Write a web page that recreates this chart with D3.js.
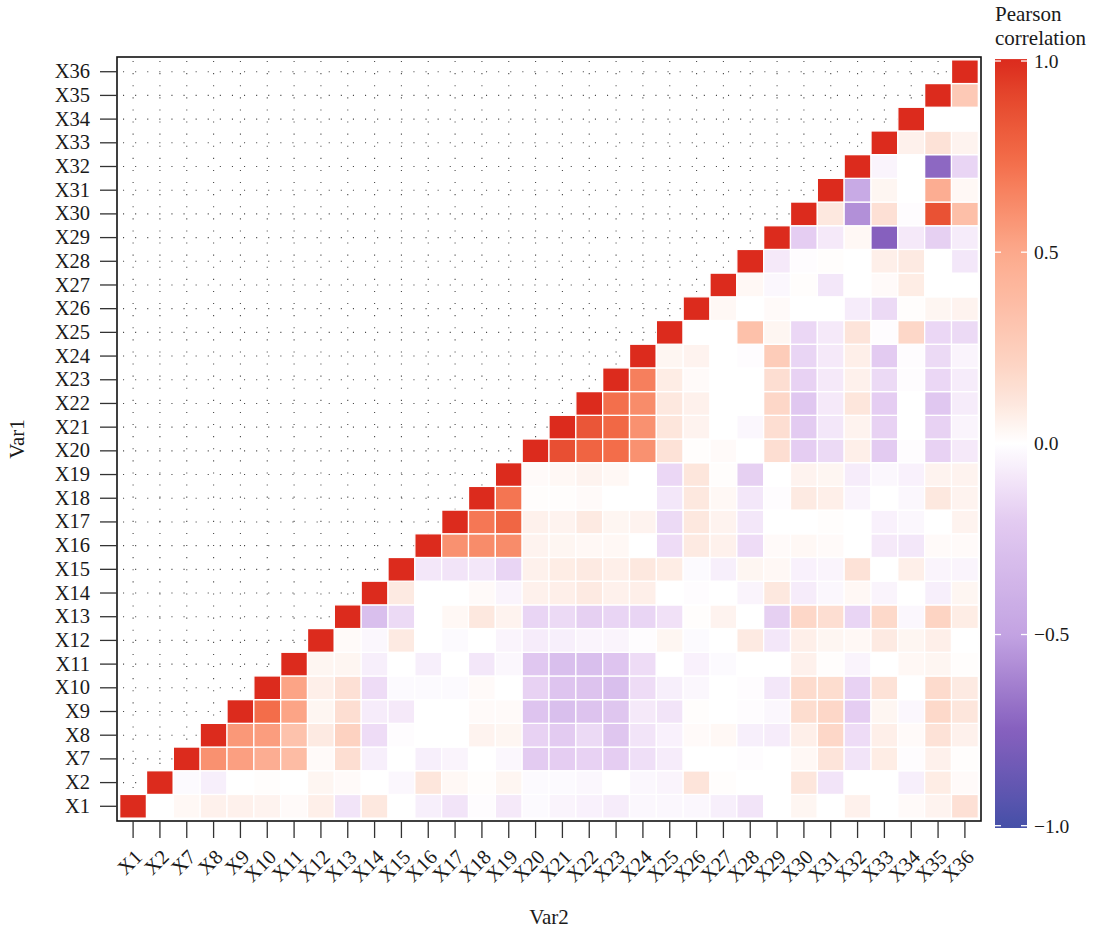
<!DOCTYPE html>
<html>
<head>
<meta charset="utf-8">
<script src="https://cdn.jsdelivr.net/npm/d3@7"></script>
<style>
  html, body { margin: 0; padding: 0; background: #ffffff; }
  svg { display: block; }
  text { font-family: "Liberation Serif", "DejaVu Serif", serif; fill: #1a1a1a; }
</style>
</head>
<body>
<svg id="chart" width="1094" height="930"></svg>
<script>
// Variable names, in axis order
const vars = ["X1","X2","X7","X8","X9","X10","X11","X12","X13","X14","X15","X16",
  "X17","X18","X19","X20","X21","X22","X23","X24","X25","X26","X27","X28","X29",
  "X30","X31","X32","X33","X34","X35","X36"];

// Upper triangle of the Pearson correlation matrix.
// Row k holds r(vars[k], vars[j]) for j = k+1 .. last; the diagonal is 1.
const upperRows = [
  /* X1  */ [0, 0.03, 0.06, 0.06, 0.05, 0.02, 0.07, -0.10, 0.10, 0, -0.06, -0.10, -0.01, -0.08, -0.02, -0.04, -0.05, -0.07, -0.03, -0.03, -0.03, -0.06, -0.10, 0, 0.04, 0, 0.06, 0, 0.02, 0.05, 0.14],
  /* X2  */ [-0.02, -0.06, 0, 0.01, 0, 0.04, 0.02, 0, -0.03, 0.11, 0.03, 0.01, 0.04, -0.02, -0.02, -0.03, 0, -0.03, -0.04, 0.12, 0.01, 0, 0, 0.11, -0.10, 0, 0, -0.06, 0.08, 0.02],
  /* X7  */ [0.60, 0.54, 0.47, 0.37, 0.02, 0.15, -0.06, 0, -0.06, -0.04, 0, -0.03, -0.20, -0.19, -0.17, -0.19, -0.12, -0.07, 0, 0, -0.01, 0, 0.03, 0.12, -0.10, 0.08, -0.01, 0.06, 0.01],
  /* X8  */ [0.57, 0.55, 0.33, 0.09, 0.22, -0.13, -0.01, 0, 0, 0.05, 0.04, -0.17, -0.20, -0.14, -0.24, -0.10, -0.05, 0.02, 0.03, -0.06, -0.07, 0.07, 0.19, -0.13, 0.07, 0.02, 0.13, 0.06],
  /* X9  */ [0.74, 0.52, 0.04, 0.15, -0.07, -0.08, 0, 0, 0.02, 0.02, -0.25, -0.29, -0.26, -0.24, -0.08, -0.10, 0.01, 0, -0.01, -0.03, 0.16, 0.19, -0.19, 0.04, -0.03, 0.18, 0.11],
  /* X10 */ [0.52, 0.07, 0.14, -0.13, -0.02, -0.02, -0.02, 0.02, 0, -0.17, -0.25, -0.26, -0.29, -0.13, -0.06, -0.03, 0, -0.01, -0.09, 0.17, 0.16, -0.17, 0.13, 0, 0.17, 0.09],
  /* X11 */ [0.04, 0.04, -0.06, 0, -0.06, 0, -0.09, -0.03, -0.23, -0.29, -0.29, -0.25, -0.13, 0, -0.05, -0.02, 0, 0, 0.06, 0.01, -0.04, 0, 0.03, 0.04, 0.01],
  /* X12 */ [0.02, -0.03, 0.09, 0, -0.02, 0, -0.04, -0.07, -0.06, -0.04, -0.04, -0.01, 0.04, -0.02, 0, 0.09, -0.09, 0.07, 0.04, 0.03, 0.09, 0.04, 0.07, 0],
  /* X13 */ [-0.29, -0.14, 0, 0.03, 0.10, 0.05, -0.16, -0.14, -0.18, -0.16, -0.16, -0.11, 0.01, 0.05, 0, -0.18, 0.19, 0.15, -0.16, 0.18, -0.03, 0.21, 0.08],
  /* X14 */ [0.09, 0, 0, 0.02, -0.04, 0.06, 0.07, 0.09, 0.06, 0.07, 0, -0.01, 0, -0.04, 0.10, -0.07, -0.03, 0.03, -0.04, 0, -0.06, 0.04],
  /* X15 */ [-0.09, -0.10, -0.09, -0.16, 0.06, 0.08, 0.09, 0.07, 0.10, 0.08, -0.02, -0.06, 0.04, 0.03, -0.05, -0.04, 0.13, 0, 0.07, -0.04, -0.04],
  /* X16 */ [0.60, 0.62, 0.62, 0.05, 0.04, 0.03, 0.03, 0, -0.13, 0.09, 0.06, -0.13, 0.02, 0.03, 0.02, 0, -0.08, -0.09, 0.02, 0.02],
  /* X17 */ [0.70, 0.77, 0.06, 0.05, 0.09, 0.04, 0.05, -0.14, 0.10, 0.05, -0.09, 0, 0, 0.01, 0, -0.05, -0.03, 0, 0.05],
  /* X18 */ [0.71, 0.01, 0.01, 0.02, 0, 0, -0.09, 0.10, 0.03, -0.09, -0.01, 0.09, 0.07, -0.04, 0, -0.03, 0.10, 0.05],
  /* X19 */ [0.02, 0.03, 0.05, 0.03, 0, -0.15, 0.11, 0.01, -0.18, 0, 0.05, 0.04, -0.07, -0.03, -0.05, 0.05, 0.05],
  /* X20 */ [0.87, 0.78, 0.74, 0.60, 0.13, 0.01, 0.02, 0, 0.15, -0.19, -0.14, 0.07, -0.20, -0.01, -0.17, -0.08],
  /* X21 */ [0.84, 0.76, 0.60, 0.11, 0.05, 0, -0.03, 0.15, -0.20, -0.09, 0.05, -0.17, 0, -0.17, -0.04],
  /* X22 */ [0.73, 0.62, 0.10, 0.06, 0, 0, 0.19, -0.23, -0.08, 0.11, -0.19, 0, -0.23, -0.07],
  /* X23 */ [0.67, 0.08, 0.02, 0, 0, 0.15, -0.17, -0.08, 0.06, -0.14, -0.01, -0.15, -0.07],
  /* X24 */ [0.04, 0.05, 0, -0.01, 0.26, -0.16, -0.08, 0.07, -0.20, -0.01, -0.14, -0.04],
  /* X25 */ [0, 0, 0.34, 0.04, -0.15, -0.08, 0.12, -0.01, 0.19, -0.15, -0.14],
  /* X26 */ [0.03, 0, 0.02, 0, 0, -0.07, -0.14, 0.01, 0.04, 0.05],
  /* X27 */ [0.03, -0.03, 0.01, -0.09, 0, 0.02, 0.08, 0, 0],
  /* X28 */ [-0.08, -0.01, 0.01, 0, 0.07, 0.09, 0, -0.09],
  /* X29 */ [-0.19, -0.08, 0.03, -0.75, -0.08, -0.18, -0.07],
  /* X30 */ [0.10, -0.57, 0.14, -0.01, 0.86, 0.35],
  /* X31 */ [-0.45, 0.04, 0, 0.47, 0.03],
  /* X32 */ [-0.04, 0, -0.72, -0.16],
  /* X33 */ [0.06, 0.13, 0.05],
  /* X34 */ [0, 0],
  /* X35 */ [0.28],
  /* X36 */ []
];

// Colour scale stops for the fill
const colorStops  = [-1, -0.75, -0.5, -0.2, -0.1, 0, 0.1, 0.2, 0.5, 0.75, 1];
const colorValues = ["#4650a8", "#8660be", "#c3a3e2", "#e3cbf1", "#f2e4f8", "#ffffff",
                     "#fde8df", "#fdd5c5", "#fca98c", "#f26a47", "#dc2b1d"];

// Legend ticks
const legendTicks  = [1, 0.5, 0, -0.5, -1];
const legendLabels = ["1.0", "0.5", "0.0", "\u22120.5", "\u22121.0"];

// Long-format cells: Var1 (row), Var2 (column), value
const cells = [];
vars.forEach((v1, i) => {
  cells.push({ var1: v1, var2: v1, value: 1 });
  upperRows[i].forEach((r, k) => {
    cells.push({ var1: v1, var2: vars[i + 1 + k], value: r });
  });
});

const svg = d3.select("#chart");

const panel = { left: 117, right: 981, top: 57, bottom: 821 };

const x = d3.scaleBand().domain(vars)
  .range([panel.left, panel.right]).paddingInner(0).paddingOuter(0.1);
const y = d3.scaleBand().domain(vars)
  .range([panel.bottom - 0.5, panel.top + 0.5]).paddingInner(0).paddingOuter(0.1);

const fill = d3.scaleLinear().domain(colorStops).range(colorValues)
  .interpolate(d3.interpolateLab).clamp(true);

// Dotted major grid lines
const grid = svg.append("g").attr("class", "grid")
  .attr("stroke", "#1e1e1e").attr("stroke-width", 1.1)
  .attr("stroke-dasharray", "1.1 11").attr("opacity", 0.8);
grid.selectAll("line.h").data(vars).join("line").attr("class", "h")
  .attr("x1", panel.left + 6).attr("x2", panel.right)
  .attr("y1", d => y(d) + y.bandwidth() / 2).attr("y2", d => y(d) + y.bandwidth() / 2);
grid.selectAll("line.v").data(vars).join("line").attr("class", "v")
  .attr("y1", panel.top + 4).attr("y2", panel.bottom)
  .attr("x1", d => x(d) + x.bandwidth() / 2).attr("x2", d => x(d) + x.bandwidth() / 2);

// Tiles
svg.append("g").selectAll("rect").data(cells).join("rect")
  .attr("x", d => x(d.var2))
  .attr("y", d => y(d.var1))
  .attr("width", x.bandwidth())
  .attr("height", y.bandwidth())
  .attr("fill", d => fill(d.value))
  .attr("stroke", "#ffffff")
  .attr("stroke-width", 1.3);

// Panel border
svg.append("rect")
  .attr("x", panel.left).attr("y", panel.top)
  .attr("width", panel.right - panel.left).attr("height", panel.bottom - panel.top)
  .attr("fill", "none").attr("stroke", "#111").attr("stroke-width", 1.6);

// Left axis
const yAxis = svg.append("g")
  .attr("transform", `translate(${panel.left},0)`)
  .call(d3.axisLeft(y).tickSize(17).tickPadding(10));
yAxis.select(".domain").remove();
yAxis.selectAll(".tick line").attr("stroke", "#333").attr("stroke-width", 1.3);
yAxis.selectAll(".tick text").attr("font-size", 20.5)
  .attr("font-family", "Liberation Serif").attr("fill", "#1a1a1a");

// Bottom axis with slanted labels
const xAxis = svg.append("g")
  .attr("transform", `translate(0,${panel.bottom})`)
  .call(d3.axisBottom(x).tickSize(17));
xAxis.select(".domain").remove();
xAxis.selectAll(".tick line").attr("stroke", "#333").attr("stroke-width", 1.3);
xAxis.selectAll(".tick text")
  .attr("font-size", 20.5).attr("font-family", "Liberation Serif").attr("fill", "#1a1a1a")
  .attr("y", null).attr("dy", "0.71em")
  .attr("text-anchor", "end")
  .attr("transform", "translate(0,27) rotate(-45)");

// Axis titles
svg.append("text").attr("x", (panel.left + panel.right) / 2).attr("y", 924)
  .attr("text-anchor", "middle").attr("font-size", 21).text("Var2");
svg.append("text")
  .attr("transform", `translate(24,${(panel.top + panel.bottom) / 2}) rotate(-90)`)
  .attr("text-anchor", "middle").attr("font-size", 21).text("Var1");

// Colour bar legend
const bar = { x: 995, w: 32 };
const yl = d3.scaleLinear().domain([-1, 1]).range([825.7, 61]);

const defs = svg.append("defs");
const grad = defs.append("linearGradient").attr("id", "corrGrad")
  .attr("x1", 0).attr("y1", 1).attr("x2", 0).attr("y2", 0);
d3.range(0, 1.0001, 0.01).forEach(t => {
  const v = -1.006 + t * 2.011;
  grad.append("stop").attr("offset", t).attr("stop-color", fill(v));
});
svg.append("rect")
  .attr("x", bar.x).attr("y", yl(1.005)).attr("width", bar.w)
  .attr("height", yl(-1.006) - yl(1.005))
  .attr("fill", "url(#corrGrad)");

const lt = svg.append("g");
legendTicks.forEach((v, i) => {
  lt.append("line").attr("x1", bar.x).attr("x2", bar.x + 6)
    .attr("y1", yl(v)).attr("y2", yl(v)).attr("stroke", "#fff").attr("stroke-width", 1.3);
  lt.append("line").attr("x1", bar.x + bar.w - 6).attr("x2", bar.x + bar.w)
    .attr("y1", yl(v)).attr("y2", yl(v)).attr("stroke", "#fff").attr("stroke-width", 1.3);
  lt.append("text").attr("x", 1034).attr("y", yl(v)).attr("dy", "0.35em")
    .attr("font-size", 19.5).text(legendLabels[i]);
});

svg.append("text").attr("x", 995).attr("y", 21).attr("font-size", 21).text("Pearson");
svg.append("text").attr("x", 995).attr("y", 45).attr("font-size", 21).text("correlation");
</script>
</body>
</html>
